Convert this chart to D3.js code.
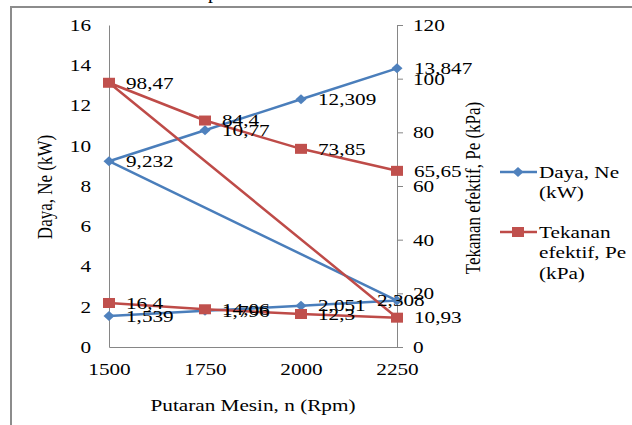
<!DOCTYPE html>
<html>
<head>
<meta charset="utf-8">
<script src="https://cdn.jsdelivr.net/npm/d3@7"></script>
<style>
html,body{margin:0;padding:0;background:#fff;}
</style>
</head>
<body>
<svg id="c" width="632" height="425"></svg>
<script>
// Data
const rpm = [1500, 1750, 2000, 2250, 1500, 1750, 2000, 2250];
const daya = [1.539, 1.796, 2.051, 2.308, 9.232, 10.77, 12.309, 13.847];
const tekanan = [16.4, 14.06, 12.3, 10.93, 98.47, 84.4, 73.85, 65.65];
const xTicks = [1500, 1750, 2000, 2250];
const leftTicks = [0, 2, 4, 6, 8, 10, 12, 14, 16];
const rightTicks = [0, 20, 40, 60, 80, 100, 120];
const seriesNames = [["Daya, Ne", "(kW)"], ["Tekanan", "efektif, Pe", "(kPa)"]];

// pick an installed Times-like font
const ctx = document.createElement("canvas").getContext("2d");
function widthOf(fam, s, size) { ctx.font = `${size}px ${fam}`; return ctx.measureText(s).width; }
const probe = "Putaran Mesin, n (Rpm) 0123456789";
const candidates = ["Liberation Serif", "Tinos", "Times New Roman", "Nimbus Roman", "Noto Serif", "DejaVu Serif"];
let chosen = "serif";
for (const c of candidates) {
  const a = widthOf(`"${c}", monospace`, probe, 40), b = widthOf("monospace", probe, 40);
  const a2 = widthOf(`"${c}", sans-serif`, probe, 40), b2 = widthOf("sans-serif", probe, 40);
  if (Math.abs(a - b) > 0.5 || Math.abs(a2 - b2) > 0.5) { chosen = c; break; }
}
const FONT = `"${chosen}", serif`;
const FS = chosen === "DejaVu Serif" || chosen === "Noto Serif" ? 16 : 17;
// horizontal stretch so that the x-title gets the reference width (~205px)
const SX = 205 / widthOf(FONT, "Putaran Mesin, n (Rpm)", FS);

const svg = d3.select("#c");
const axisCol = "#868686";
const blueLine = "#4A7EBB", blueFill = "#4F81BD";
const redLine = "#BE4B48", redFill = "#C0504D";

function stretch(sel) {
  sel.each(function () {
    const t = d3.select(this);
    const x0 = +t.attr("x") || 0, y0 = +t.attr("y") || 0;
    t.attr("x", 0).attr("y", 0).attr("transform", `translate(${x0},${y0}) scale(${SX},1)`)
      .attr("font-family", FONT).attr("font-size", FS).attr("fill", "#000");
  });
}

// frame
svg.append("path").attr("d", "M11,425 L11,7 L632,7").attr("fill", "none")
  .attr("stroke", "#8c8c8c").attr("stroke-width", 2);
// cut-off title fragment
svg.append("text").attr("x", 208).attr("y", -2).attr("font-size", 20).attr("font-family", FONT).text("p");

const x = d3.scaleLinear().domain([1500, 2250]).range([109, 397]);
const yL = d3.scaleLinear().domain([0, 16]).range([347, 25]);
const yR = d3.scaleLinear().domain([0, 120]).range([347, 25]);

function styleAxis(g) {
  g.attr("font-family", FONT);
  g.selectAll("path.domain").attr("stroke", axisCol).attr("stroke-width", 1);
  g.selectAll(".tick line").attr("stroke", axisCol);
  stretch(g.selectAll("text"));
}

svg.append("g").attr("transform", "translate(109,0)")
  .call(d3.axisLeft(yL).tickValues(leftTicks).tickSize(0).tickPadding(18).tickFormat(d3.format("d")))
  .call(styleAxis);
svg.append("g").attr("transform", "translate(397,0)")
  .call(d3.axisRight(yR).tickValues(rightTicks).tickSizeInner(6).tickSizeOuter(6).tickPadding(10).tickFormat(d3.format("d")))
  .call(styleAxis);
svg.append("g").attr("transform", "translate(0,347)")
  .call(d3.axisBottom(x).tickValues(xTicks).tickSize(0).tickPadding(16).tickFormat(d3.format("d")))
  .call(styleAxis);

// axis titles
svg.append("text").attr("transform", `translate(45,187) rotate(-90) scale(1,${SX})`)
  .attr("text-anchor", "middle").attr("dominant-baseline", "central").attr("font-size", FS)
  .attr("font-family", FONT).text("Daya, Ne (kW)");
svg.append("text").attr("transform", `translate(473,188) rotate(-90) scale(1,${SX})`)
  .attr("text-anchor", "middle").attr("dominant-baseline", "central").attr("font-size", FS)
  .attr("font-family", FONT).text("Tekanan efektif, Pe (kPa)");
stretch(svg.append("text").attr("x", 253).attr("y", 405)
  .attr("text-anchor", "middle").attr("dominant-baseline", "central").text("Putaran Mesin, n (Rpm)"));

const fmt = v => String(v).replace(".", ",");

function marker(g, kind, cx, cy, fill) {
  if (kind === "diamond") {
    g.append("path").attr("d", `M${cx - 5.5},${cy} L${cx},${cy - 5} L${cx + 5.5},${cy} L${cx},${cy + 5} Z`)
      .attr("fill", fill);
  } else {
    g.append("rect").attr("x", cx - 6).attr("y", cy - 5).attr("width", 12).attr("height", 10).attr("fill", fill);
  }
}

function drawSeries(vals, y, lineCol, fillCol, kind) {
  const pts = vals.map((v, i) => [x(rpm[i]), y(v), v, i]);
  svg.append("path").datum(pts)
    .attr("d", d3.line().x(d => d[0]).y(d => d[1]))
    .attr("fill", "none").attr("stroke", lineCol).attr("stroke-width", 2.5).attr("stroke-linejoin", "round");
  const g = svg.append("g");
  pts.forEach(p => marker(g, kind, p[0], p[1], fillCol));
  return pts;
}

const bp = drawSeries(daya, yL, blueLine, blueFill, "diamond");
const rp = drawSeries(tekanan, yR, redLine, redFill, "square");

// data labels (drawn after markers)
function drawLabels(pts, shifts) {
  pts.forEach(p => {
    const dx = shifts[p[3]] !== undefined ? shifts[p[3]] : 17;
    stretch(svg.append("text").attr("x", p[0] + dx).attr("y", p[1])
      .attr("dominant-baseline", "central").text(fmt(p[2])));
  });
}
drawLabels(bp, {3: -20});
drawLabels(rp, {});

// legend
const lg = svg.append("g");
[[blueLine, blueFill, "diamond", 172], [redLine, redFill, "square", 232]].forEach((s, k) => {
  lg.append("line").attr("x1", 500).attr("x2", 537).attr("y1", s[3]).attr("y2", s[3])
    .attr("stroke", s[0]).attr("stroke-width", 2.5);
  marker(lg, s[2], 518, s[3], s[1]);
  seriesNames[k].forEach((t, j) => {
    stretch(lg.append("text").attr("x", 539).attr("y", s[3] + j * 20.5)
      .attr("dominant-baseline", "central").text(t));
  });
});
</script>
</body>
</html>
